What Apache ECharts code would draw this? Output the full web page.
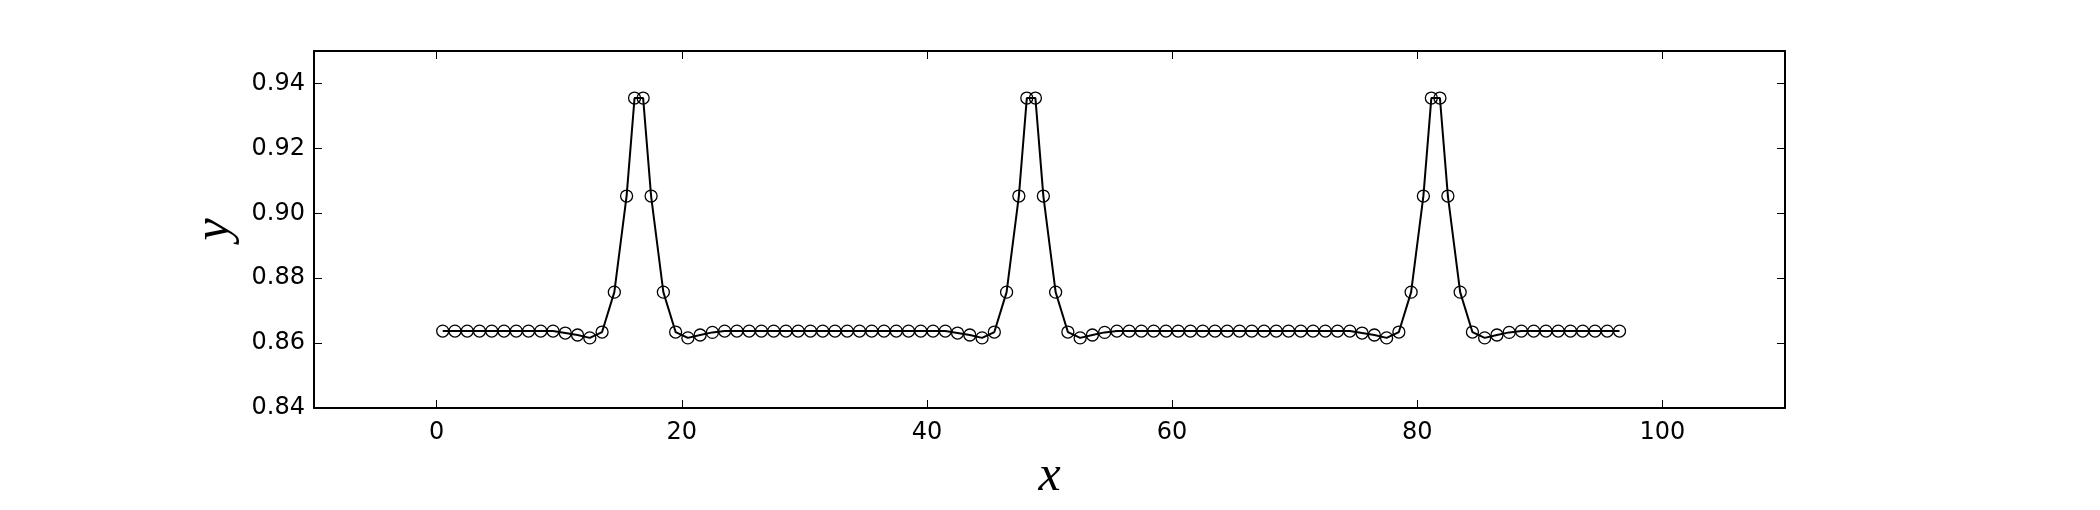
<!DOCTYPE html>
<html>
<head>
<meta charset="utf-8">
<script src="https://cdn.jsdelivr.net/npm/echarts@6/dist/echarts.min.js"></script>
<style>
  html, body { margin: 0; padding: 0; background: #fff; }
  #chart { width: 2100px; height: 510px; }
</style>
</head>
<body>
<div id="chart"></div>
<script>
// 网格点 (峰值处两个点靠得很近)
const xValues = [0.5, 1.5, 2.5, 3.5, 4.5, 5.5, 6.5, 7.5, 8.5, 9.5,
  10.5, 11.5, 12.5, 13.5, 14.5, 15.5, 16.15, 16.85, 17.5, 18.5, 19.5, 20.5, 21.5, 22.5,
  23.5, 24.5, 25.5, 26.5, 27.5, 28.5, 29.5, 30.5, 31.5, 32.5, 33.5, 34.5, 35.5, 36.5, 37.5, 38.5, 39.5, 40.5, 41.5,
  42.5, 43.5, 44.5, 45.5, 46.5, 47.5, 48.15, 48.85, 49.5, 50.5, 51.5, 52.5, 53.5, 54.5,
  55.5, 56.5, 57.5, 58.5, 59.5, 60.5, 61.5, 62.5, 63.5, 64.5, 65.5, 66.5, 67.5, 68.5, 69.5, 70.5, 71.5, 72.5, 73.5, 74.5,
  75.5, 76.5, 77.5, 78.5, 79.5, 80.5, 81.15, 81.85, 82.5, 83.5, 84.5, 85.5, 86.5, 87.5,
  88.5, 89.5, 90.5, 91.5, 92.5, 93.5, 94.5, 95.5, 96.5]

const yValues = [0.8637, 0.8637, 0.8637, 0.8637, 0.8637, 0.8637, 0.8637, 0.8637, 0.8637, 0.8637,
  0.8631, 0.8625, 0.8616, 0.8634, 0.8757, 0.9053, 0.9355, 0.9355, 0.9053, 0.8757, 0.8634, 0.8616, 0.8625, 0.8633,
  0.8637, 0.8637, 0.8637, 0.8637, 0.8637, 0.8637, 0.8637, 0.8637, 0.8637, 0.8637, 0.8637, 0.8637, 0.8637, 0.8637, 0.8637, 0.8637, 0.8637, 0.8637, 0.8637,
  0.8631, 0.8625, 0.8616, 0.8634, 0.8757, 0.9053, 0.9355, 0.9355, 0.9053, 0.8757, 0.8634, 0.8616, 0.8625, 0.8633,
  0.8637, 0.8637, 0.8637, 0.8637, 0.8637, 0.8637, 0.8637, 0.8637, 0.8637, 0.8637, 0.8637, 0.8637, 0.8637, 0.8637, 0.8637, 0.8637, 0.8637, 0.8637, 0.8637, 0.8637,
  0.8631, 0.8625, 0.8616, 0.8634, 0.8757, 0.9053, 0.9355, 0.9355, 0.9053, 0.8757, 0.8634, 0.8616, 0.8625, 0.8633,
  0.8637, 0.8637, 0.8637, 0.8637, 0.8637, 0.8637, 0.8637, 0.8637, 0.8637]

const xTicks = [0, 20, 40, 60, 80, 100]
const yTicks = [0.84, 0.86, 0.88, 0.90, 0.92, 0.94]

const X_MIN = -10
const X_MAX = 110
const Y_MIN = 0.84
const Y_MAX = 0.95

const chart = echarts.init(document.getElementById('chart'), null, {renderer: 'canvas'})

const frameLine = {show: true, onZero: false, lineStyle: {color: '#000', width: 2}}
const labelFont = {color: '#000', fontSize: 24, fontFamily: 'DejaVu Sans'}
const nameFont = {color: '#000', fontSize: 50, fontStyle: 'italic', fontFamily: 'Liberation Serif'}

function xAxisOf(position, showLabel) {
  return {
    type: 'value',
    position: position,
    min: X_MIN,
    max: X_MAX,
    axisLine: frameLine,
    axisTick: {show: true, inside: true, length: 8, customValues: xTicks, lineStyle: {color: '#000', width: 1}},
    axisLabel: Object.assign({show: showLabel, margin: 13, customValues: xTicks}, labelFont),
    splitLine: {show: false}
  }
}

function yAxisOf(position, showLabel) {
  return {
    type: 'value',
    position: position,
    min: Y_MIN,
    max: Y_MAX,
    axisLine: frameLine,
    axisTick: {show: true, inside: true, length: 8, customValues: yTicks, lineStyle: {color: '#000', width: 1}},
    axisLabel: Object.assign({
      show: showLabel,
      margin: 9,
      customValues: yTicks,
      formatter: v => v.toFixed(2)
    }, labelFont),
    splitLine: {show: false}
  }
}

const xBottom = xAxisOf('bottom', true)
xBottom.name = 'x'
xBottom.nameLocation = 'middle'
xBottom.nameGap = 44
xBottom.nameTextStyle = nameFont

const yLeft = yAxisOf('left', true)
yLeft.name = 'y'
yLeft.nameLocation = 'middle'
yLeft.nameGap = 74
yLeft.nameTextStyle = nameFont

const option = {
  animation: false,
  backgroundColor: '#fff',
  grid: {left: 314, right: 315, top: 51, bottom: 102},
  xAxis: [xBottom, xAxisOf('top', false)],
  yAxis: [yLeft, yAxisOf('right', false)],
  series: [
    {
      type: 'line',
      xAxisIndex: 0,
      yAxisIndex: 0,
      data: xValues.map((x, i) => [x, yValues[i]]),
      symbol: 'circle',
      symbolSize: 12,
      showAllSymbol: true,
      itemStyle: {color: 'rgba(0,0,0,0)', borderColor: '#000', borderWidth: 1.3},
      lineStyle: {color: '#000', width: 2},
      emphasis: {disabled: true},
      z: 3
    }
  ]
}

chart.setOption(option)
</script>
</body>
</html>
